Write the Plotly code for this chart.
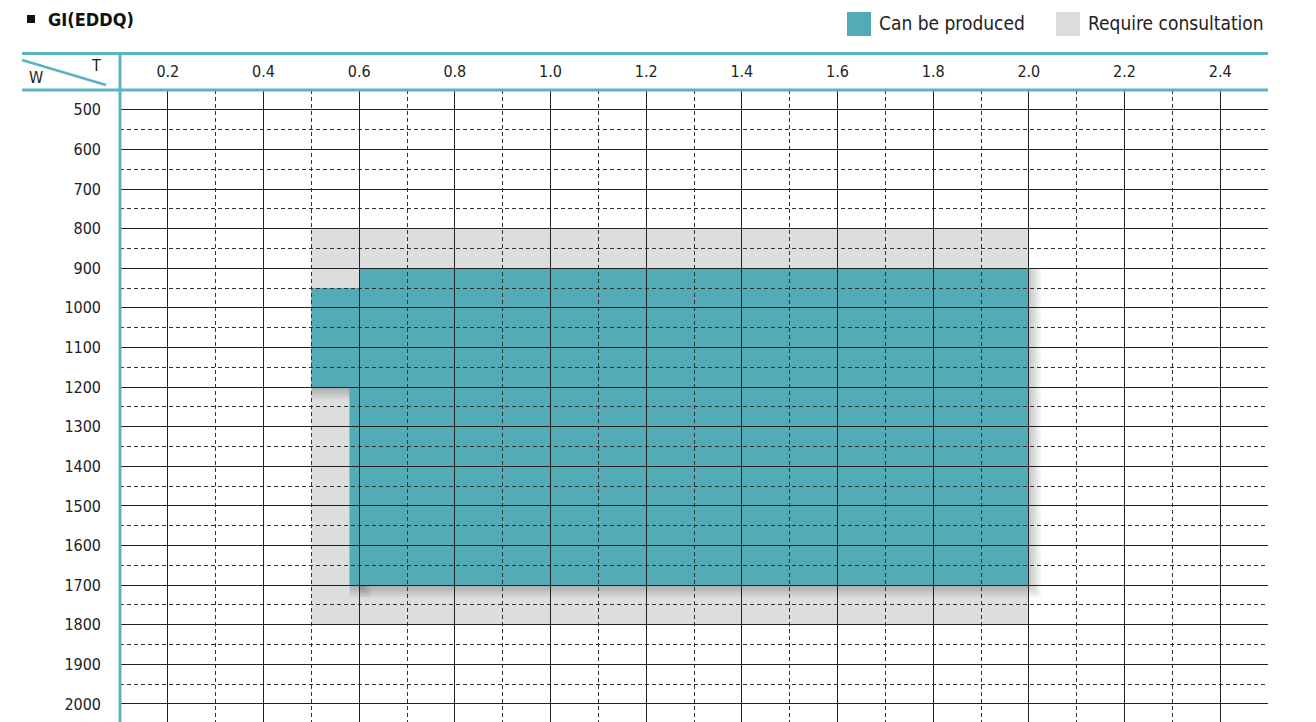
# GI(EDDQ): producible size range chart (thickness T vs width W)
import plotly.graph_objects as go

# ---- data ----
T_TICKS = [0.2, 0.4, 0.6, 0.8, 1.0, 1.2, 1.4, 1.6, 1.8, 2.0, 2.2, 2.4]
W_TICKS = [500, 600, 700, 800, 900, 1000, 1100, 1200, 1300, 1400, 1500, 1600, 1700, 1800, 1900, 2000]

# "Can be produced" blocks (T from, T to, W from, W to)
PROD_T0 = [0.6, 0.5, 0.58]
PROD_T1 = [2.0, 0.6, 0.6]
PROD_W0 = [900, 950, 1200]
PROD_W1 = [1700, 1200, 1700]

# "Require consultation" block
CONS_T0 = [0.5]
CONS_T1 = [2.0]
CONS_W0 = [800]
CONS_W1 = [1800]

TITLE = "GI(EDDQ)"
LEGEND_LABELS = ["Can be produced", "Require consultation"]

# ---- style ----
TEAL = "#53abb8"
GREY = "#dcdddd"
LINE_TEAL = "#5ab3c0"
FONT = "DejaVu Sans Condensed, Liberation Sans Narrow, Roboto, sans-serif"

# page body has an 8px margin, so the figure is placed at (8, 8)
OFF = 8
W, H = 1316 - OFF, 722 - OFF
ML, MR, MT, MB = 120 - OFF, 48, 90 - OFF, 0
PW, PH = W - ML - MR, H - MT - MB


def px(xp):
    # window pixel x -> paper x
    return (xp - OFF - ML) / PW


def py(yp):
    # window pixel y -> paper y
    return (H - MB - (yp - OFF)) / PH


fig = go.Figure()
# invisible trace so axes exist
fig.add_trace(go.Scatter(x=[0.1, 2.5], y=[450, 2045], mode="markers",
                         marker=dict(opacity=0), hoverinfo="skip", showlegend=False))

shapes = []
# consultation area
for t0, t1, w0, w1 in zip(CONS_T0, CONS_T1, CONS_W0, CONS_W1):
    shapes.append(dict(type="rect", xref="x", yref="y", x0=t0, x1=t1, y0=w0, y1=w1,
                       fillcolor=GREY, line=dict(width=0), layer="below"))
# soft drop shadow under producible area
for i in range(1, 6):
    dx, dy = 0.005 * i, 6 * i
    for t0, t1, w0, w1 in zip(PROD_T0, PROD_T1, PROD_W0, PROD_W1):
        shapes.append(dict(type="rect", xref="x", yref="y", x0=t0, x1=t1 + dx, y0=w0, y1=w1 + dy,
                           fillcolor="rgba(0,0,0,0.045)", line=dict(width=0), layer="below"))
# producible area
for t0, t1, w0, w1 in zip(PROD_T0, PROD_T1, PROD_W0, PROD_W1):
    shapes.append(dict(type="rect", xref="x", yref="y", x0=t0, x1=t1, y0=w0, y1=w1,
                       fillcolor=TEAL, line=dict(width=0), layer="below"))

# table frame (teal rules) and header diagonal
shapes += [
    dict(type="line", xref="paper", yref="paper", x0=px(22), x1=1, y0=py(53.5), y1=py(53.5),
         line=dict(color=LINE_TEAL, width=3)),
    dict(type="line", xref="paper", yref="paper", x0=px(22), x1=1, y0=1, y1=1,
         line=dict(color=LINE_TEAL, width=3)),
    dict(type="line", xref="paper", yref="paper", x0=0, x1=0, y0=0, y1=py(53.5),
         line=dict(color=LINE_TEAL, width=3)),
    dict(type="line", xref="paper", yref="paper", x0=px(22), x1=px(106), y0=py(60), y1=py(85),
         line=dict(color=LINE_TEAL, width=2.5)),
]

# title marker and legend swatches
shapes.append(dict(type="rect", xref="paper", yref="paper", x0=px(27), x1=px(35), y0=py(23), y1=py(15),
                   fillcolor="#111", line=dict(width=0)))
shapes.append(dict(type="rect", xref="paper", yref="paper", x0=px(847), x1=px(871), y0=py(36), y1=py(12),
                   fillcolor=TEAL, line=dict(width=0)))
shapes.append(dict(type="rect", xref="paper", yref="paper", x0=px(1056), x1=px(1080), y0=py(36), y1=py(12),
                   fillcolor=GREY, line=dict(width=0)))

annotations = [
    dict(text=f"<b>{TITLE}</b>", xref="paper", yref="paper", x=px(46), y=py(19),
         xanchor="left", yanchor="middle", showarrow=False, font=dict(size=18, color="#111")),
    dict(text=LEGEND_LABELS[0], xref="paper", yref="paper", x=px(877), y=py(23),
         xanchor="left", yanchor="middle", showarrow=False, font=dict(size=19, color="#222")),
    dict(text=LEGEND_LABELS[1], xref="paper", yref="paper", x=px(1086), y=py(23),
         xanchor="left", yanchor="middle", showarrow=False, font=dict(size=19, color="#222")),
    dict(text="T", xref="paper", yref="paper", x=px(96), y=py(65),
         xanchor="center", yanchor="middle", showarrow=False, font=dict(size=16, color="#222")),
    dict(text="W", xref="paper", yref="paper", x=px(36), y=py(78),
         xanchor="center", yanchor="middle", showarrow=False, font=dict(size=16, color="#222")),
]

fig.update_layout(
    width=W, height=H,
    margin=dict(l=ML, r=MR, t=MT, b=MB, autoexpand=False),
    paper_bgcolor="white", plot_bgcolor="white",
    font=dict(family=FONT, size=16, color="#222"),
    shapes=shapes, annotations=annotations,
    showlegend=False,
    xaxis=dict(
        range=[0.1, 2.5], side="top", tickvals=T_TICKS,
        ticktext=[f"{t:.1f}" for t in T_TICKS],
        ticks="", showline=False, zeroline=False, ticklabelstandoff=9,
        showgrid=True, gridcolor="#222", gridwidth=1,
        minor=dict(dtick=0.1, tick0=0.1, showgrid=True, gridcolor="#333", gridwidth=1, griddash="4px,3px"),
        fixedrange=True,
    ),
    yaxis=dict(
        range=[2045.5, 450], tickvals=W_TICKS,
        ticks="", showline=False, zeroline=False, ticklabelstandoff=18,
        showgrid=True, gridcolor="#222", gridwidth=1,
        minor=dict(dtick=50, tick0=0, showgrid=True, gridcolor="#333", gridwidth=1, griddash="4px,3px"),
        fixedrange=True,
    ),
)

fig.write_html("out.html")
